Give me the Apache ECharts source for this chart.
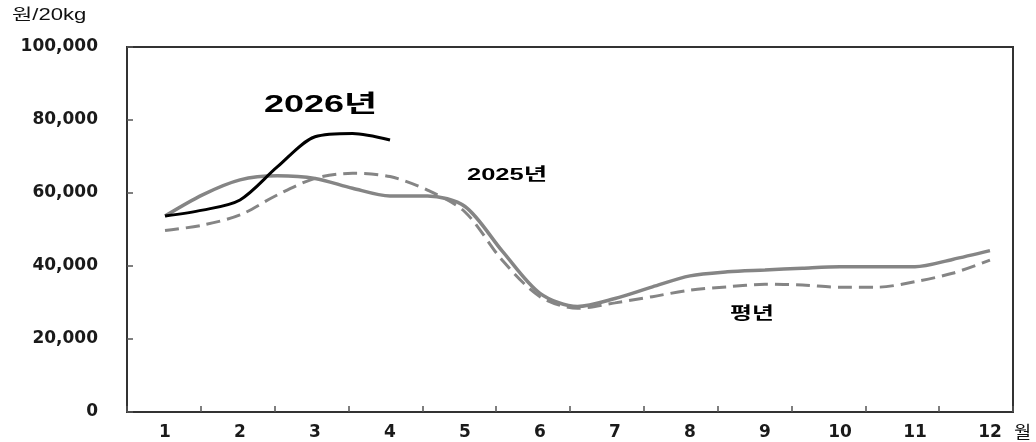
<!DOCTYPE html>
<html>
<head>
<meta charset="utf-8">
<script src="https://cdn.jsdelivr.net/npm/echarts@6/dist/echarts.min.js"></script>
<style>
  html, body { margin: 0; padding: 0; background: #fff; }
  #chart { width: 1036px; height: 442px; }
</style>
</head>
<body>
<div id="chart"></div>
<script>
// Price per 20kg (원), sampled at the start and middle of each month
const monthLabels = ['1', '2', '3', '4', '5', '6', '7', '8', '9', '10', '11', '12'];
const monthNumbers = [1, 2, 3, 4, 5, 6, 7, 8, 9, 10, 11, 12];
const sampleMonths = [1, 1.5, 2, 2.5, 3, 3.5, 4, 4.5, 5, 5.5, 6, 6.5, 7, 7.5, 8, 8.5, 9, 9.5, 10, 10.5, 11, 11.5, 12];
const price2026 = [53700, 55300, 58100, 67200, 75400, 76300, 74500];
const price2025 = [53700, 59500, 63600, 64700, 64000, 61300, 59200, 59200, 56300, 44000, 32500, 28900,
                   31100, 34300, 37300, 38400, 38900, 39400, 39800, 39800, 39800, 41800, 44200];
const priceAvg = [49700, 51200, 54000, 59500, 64000, 65400, 64500, 60800, 54800, 41500, 31600, 28400,
                  29900, 31600, 33400, 34300, 35000, 34800, 34200, 34200, 35700, 38000, 41600];
const yTicks = { min: 0, max: 100000, interval: 20000 };

const pair = (xs, ys) => ys.map((v, i) => [xs[i], v]);

const font = '"Liberation Sans", "Noto Sans CJK KR", sans-serif';
const axisFont = '"DejaVu Sans", "Noto Sans CJK KR", sans-serif';
const axisColor = '#333333';
const tickColor = '#555555';
const gray = '#858585';

const chart = echarts.init(document.getElementById('chart'), null, { renderer: 'canvas' });

chart.setOption({
  animation: false,
  backgroundColor: '#ffffff',
  grid: {
    left: 127, right: 23, top: 47, bottom: 30,
    show: true, borderColor: axisColor, borderWidth: 2, backgroundColor: 'transparent'
  },
  xAxis: [
    {
      // month boundaries: tick marks between months
      type: 'category',
      data: monthLabels,
      boundaryGap: true,
      axisLine: { show: true, lineStyle: { color: axisColor, width: 2 } },
      axisTick: { show: true, inside: true, length: 6, alignWithLabel: false, lineStyle: { color: tickColor, width: 1.5 } },
      axisLabel: { show: false },
      splitLine: { show: false },
      z: 5
    },
    {
      // month scale used by the price lines
      type: 'value',
      min: 0.493, max: 12.307,
      position: 'bottom',
      axisLine: { show: false },
      axisTick: { show: false },
      splitLine: { show: false },
      axisLabel: {
        customValues: monthNumbers,
        fontFamily: axisFont, fontSize: 17, fontWeight: 'bold', color: '#1a1a1a', margin: 12
      }
    }
  ],
  yAxis: {
    type: 'value',
    min: yTicks.min, max: yTicks.max, interval: yTicks.interval,
    axisLine: { show: true, lineStyle: { color: axisColor, width: 2 } },
    axisTick: { show: true, inside: true, length: 6, lineStyle: { color: tickColor, width: 1.5 } },
    axisLabel: {
      fontFamily: axisFont, fontSize: 17, fontWeight: 'bold', color: '#1a1a1a', margin: 29,
      formatter: v => v.toLocaleString('en-US')
    },
    splitLine: { show: false },
    z: 5
  },
  series: [
    {
      name: '평년', type: 'line', xAxisIndex: 1, data: pair(sampleMonths, priceAvg),
      smooth: 0.3, symbol: 'none',
      lineStyle: { color: gray, width: 3, type: [14, 7] }, z: 2
    },
    {
      name: '2025년', type: 'line', xAxisIndex: 1, data: pair(sampleMonths, price2025),
      smooth: 0.3, symbol: 'none',
      lineStyle: { color: gray, width: 3.5 }, z: 3
    },
    {
      name: '2026년', type: 'line', xAxisIndex: 1, data: pair(sampleMonths, price2026),
      smooth: 0.3, symbol: 'none',
      lineStyle: { color: '#000', width: 3 }, z: 4
    }
  ],
  graphic: [
    { type: 'text', x: 12, y: 8, scaleX: 1.38, style: { text: '원/20kg', font: '16px ' + font, fill: '#111' } },
    { type: 'text', x: 1014, y: 425, scaleX: 1.1, style: { text: '월', font: '17px ' + font, fill: '#111' } },
    { type: 'text', x: 264, y: 93, scaleX: 1.5, style: { text: '2026년', font: 'bold 24px ' + font, fill: '#000' } },
    { type: 'text', x: 467, y: 167, scaleX: 1.5, style: { text: '2025년', font: 'bold 17px ' + font, fill: '#000' } },
    { type: 'text', x: 730, y: 306, scaleX: 1.4, style: { text: '평년', font: 'bold 17px ' + font, fill: '#000' } }
  ]
});
</script>
</body>
</html>
